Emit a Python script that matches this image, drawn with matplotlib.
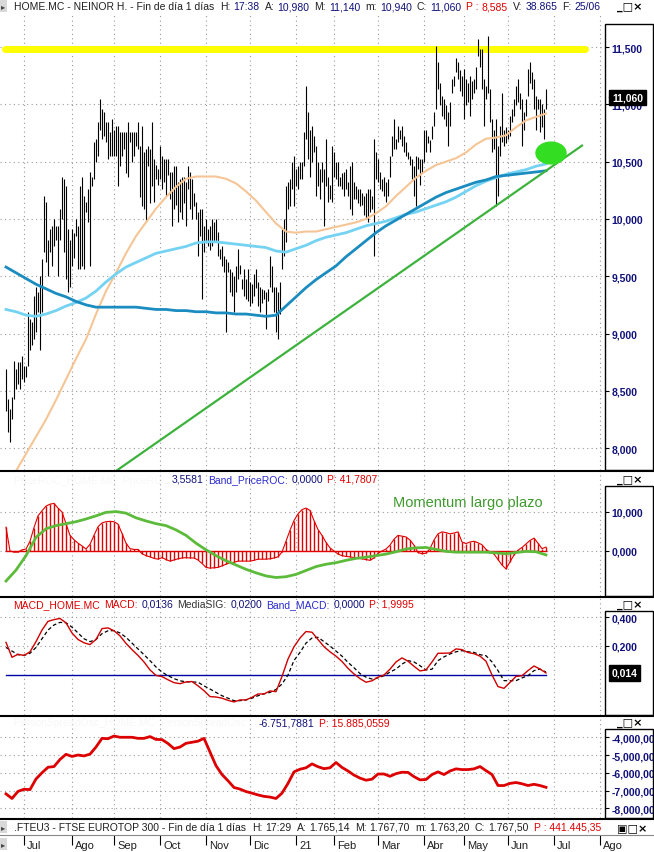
import matplotlib
matplotlib.use("Agg")
import matplotlib.pyplot as plt
from matplotlib.patches import Ellipse, Rectangle
from matplotlib.lines import Line2D
from matplotlib.transforms import blended_transform_factory
import numpy as np

# ---- data -----------------------------------------------------------------
# daily bars HOME.MC (high / low), one per session
price_high = [
    8.69, 8.43, 8.34, 8.45, 8.76, 8.69, 8.75, 8.75, 8.80, 8.72, 8.72, 9.19, 9.13, 9.10, 9.33, 9.41,
    9.36, 9.50, 9.65, 10.20, 10.15, 9.82, 9.91, 9.94, 10.00, 9.94, 9.94, 10.09, 10.37, 10.35, 10.29,
    9.91, 9.82, 9.91, 9.88, 10.00, 9.94, 10.29, 10.37, 10.20, 10.15, 10.26, 10.41, 10.37, 10.67, 10.70,
    10.85, 11.05, 10.96, 10.93, 10.85, 10.85, 10.76, 10.87, 10.78, 10.81, 10.81, 10.76, 10.76, 10.76,
    10.76, 10.85, 10.76, 10.76, 10.76, 10.76, 10.85, 10.64, 10.81, 10.58, 10.61, 10.64, 10.61, 10.85,
    10.52, 10.47, 10.44,
    10.64, 10.55, 10.52, 10.52, 10.52, 10.41, 10.41, 10.46, 10.46, 10.32, 10.35, 10.37, 10.37, 10.32,
    10.46, 10.41, 10.35, 10.23, 10.15, 10.06, 10.09, 10.09, 9.94, 10.00, 9.91, 9.94, 10.00, 9.97,
    10.00, 9.89, 9.74, 9.76, 9.68, 9.65, 9.62, 9.56, 9.54, 9.50, 9.59, 9.74, 9.60, 9.48, 9.56, 9.48,
    9.56, 9.45, 9.43, 9.52, 9.56, 9.45, 9.41, 9.39, 9.38, 9.36, 9.39, 9.68, 9.59, 9.41, 9.41, 9.36,
    9.45, 9.91, 10.00, 10.29, 10.32, 10.35, 10.50, 10.55, 10.44, 10.46, 10.50, 10.50, 10.76, 11.16,
    10.93,
    10.78, 10.81, 10.72, 10.64, 10.50, 10.44, 10.50, 10.44, 10.70, 10.37, 10.30, 10.64, 10.58, 10.50,
    10.50, 10.37, 10.40, 10.41, 10.44, 10.32, 10.46, 10.50, 10.32, 10.29, 10.26, 10.26, 10.23, 10.20,
    10.23, 10.26, 10.26, 10.20, 10.70, 10.58, 10.52, 10.41, 10.35, 10.37, 10.32, 10.35, 10.55, 10.72,
    10.87, 10.70, 10.81, 10.78, 10.81, 10.72, 10.67, 10.58, 10.55, 10.52, 10.46, 10.55, 10.54, 10.52,
    10.52, 10.78, 10.78, 10.72, 10.69, 10.81, 10.93, 11.51, 11.37, 11.19, 11.07, 11.05, 10.99, 10.93,
    11.02, 11.22, 11.25, 11.40, 11.37,
    11.30, 11.25, 11.31, 11.22, 11.19, 11.25, 11.20, 11.22, 11.33, 11.57, 11.48, 11.48, 11.22, 11.16,
    11.60, 11.13, 10.87, 10.78, 10.87, 10.64, 10.81, 11.10, 10.78, 10.80, 10.78, 10.90, 10.96, 11.05,
    11.16, 11.22, 11.10, 11.05, 10.93, 11.05, 11.31, 11.37, 11.28, 11.22, 11.07, 11.05, 11.05, 11.00,
    10.96, 11.13,
]
price_low = [
    8.32, 8.14, 8.05, 8.25, 8.43, 8.52, 8.56, 8.52, 8.60, 8.58, 8.62, 8.72, 8.86, 8.90, 8.95, 9.01,
    9.19, 8.86, 9.19, 9.71, 9.62, 9.50, 9.71, 9.59, 9.76, 9.82, 9.50, 9.82, 10.00, 9.71, 9.48,
    9.36, 9.41, 9.59, 9.66, 9.85, 9.56, 9.56, 9.59, 9.56, 10.06, 9.97, 9.59, 10.29, 10.35, 10.50,
    10.55, 10.78, 10.70, 10.72, 10.67, 10.52, 10.55, 10.55, 10.55, 10.55, 10.29, 10.46, 10.55, 10.61,
    10.40, 10.37, 10.67, 10.50, 10.55, 10.64, 10.61, 10.19, 10.11, 10.09, 9.97, 10.46, 10.14, 10.29,
    10.15, 10.35, 10.30,
    10.35, 10.26, 10.32, 10.20, 10.38, 10.17, 9.94, 10.09, 10.12, 9.97, 10.06, 10.00, 10.14, 9.94,
    10.26, 10.09, 10.00, 10.11, 10.00, 9.68, 9.85, 9.30, 9.71, 9.80, 9.76, 9.73, 9.76, 9.80,
    9.80, 9.68, 9.65, 9.59, 9.54, 9.01, 9.54, 9.36, 9.33, 9.19, 9.36, 9.48, 9.52, 9.39, 9.33, 9.30,
    9.28, 9.24, 9.27, 9.33, 9.40, 9.24, 9.19, 9.27, 9.30, 9.04, 9.28, 9.41, 9.36, 9.19, 9.01, 8.95,
    9.17, 9.56, 9.68, 9.80, 10.09, 10.11, 10.26, 10.11, 10.29, 10.26, 10.35, 10.35, 10.46, 10.70,
    10.52,
    10.37, 10.50, 10.58, 10.20, 10.29, 10.17, 10.32, 9.94, 10.29, 10.15, 10.17, 10.15, 10.37, 10.35,
    10.29, 10.29, 10.26, 10.20, 10.26, 10.20, 10.09, 10.03, 10.17, 10.17, 10.14, 10.11, 10.12, 10.03,
    10.00, 9.97, 10.06, 10.09, 9.68, 10.35, 10.32, 10.26, 10.24, 10.20, 10.15, 10.20, 10.37, 10.55,
    10.61, 10.61, 10.67, 10.70, 10.64, 10.58, 10.55, 10.52, 10.47, 10.35, 10.20, 10.11, 10.44, 10.30,
    10.40, 10.50, 10.58, 10.66, 10.58, 10.70, 10.81, 10.96, 11.13, 10.99, 10.90, 10.87, 10.81, 10.64,
    10.81, 11.10, 11.16, 11.28, 11.22,
    11.12, 11.07, 10.87, 10.99, 11.02, 10.90, 11.05, 11.10, 11.13, 11.42, 11.33, 11.13, 10.81, 11.05,
    11.10, 10.85, 10.58, 10.61, 10.11, 10.20, 10.55, 10.67, 10.64, 10.66, 10.70, 10.72, 10.85, 10.90,
    10.99, 11.02, 10.96, 10.64, 10.78, 10.90, 11.07, 11.19, 11.13, 10.96, 10.78, 10.96, 10.76, 10.80,
    10.70, 10.96,
]

# moving averages, one value every 5 sessions
ma_short = [7.65, 7.80, 7.95, 8.10, 8.25, 8.42, 8.60, 8.78, 8.95, 9.17, 9.37, 9.53, 9.70, 9.85,
            9.97, 10.09, 10.19, 10.28, 10.35, 10.37, 10.37, 10.37, 10.35, 10.31, 10.24, 10.16,
            10.06, 9.96, 9.89, 9.88, 9.89, 9.89, 9.91, 9.93, 9.95, 9.97, 10.00, 10.05, 10.11,
            10.20, 10.28, 10.36, 10.42, 10.47, 10.50, 10.53, 10.58, 10.65, 10.70, 10.71, 10.73,
            10.80, 10.86, 10.89, 10.92]
ma_mid = [9.21, 9.19, 9.16, 9.15, 9.17, 9.20, 9.24, 9.27, 9.31, 9.37, 9.45, 9.52, 9.58, 9.62,
          9.66, 9.70, 9.72, 9.74, 9.76, 9.79, 9.80, 9.80, 9.79, 9.78, 9.77, 9.76, 9.75, 9.72,
          9.71, 9.74, 9.77, 9.81, 9.84, 9.86, 9.88, 9.91, 9.94, 9.96, 9.98, 10.01, 10.04, 10.06,
          10.09, 10.12, 10.15, 10.19, 10.24, 10.29, 10.33, 10.36, 10.39, 10.41, 10.43, 10.46, 10.48]
ma_long = [9.58, 9.53, 9.48, 9.43, 9.39, 9.35, 9.32, 9.28, 9.25, 9.23, 9.23, 9.23, 9.23, 9.23,
           9.22, 9.21, 9.21, 9.20, 9.20, 9.19, 9.19, 9.18, 9.18, 9.17, 9.17, 9.16, 9.15, 9.16,
           9.24, 9.32, 9.40, 9.47, 9.53, 9.59, 9.67, 9.74, 9.81, 9.88, 9.94, 9.99, 10.04, 10.09,
           10.14, 10.19, 10.23, 10.26, 10.29, 10.32, 10.34, 10.37, 10.38, 10.39, 10.40, 10.41, 10.42]

resistance = 11.48
trend_start, trend_end = (55, 7.80), (288, 10.64)   # (session, price)
last_close = 11.06

# PriceROC histogram (every 2 sessions) and long-term momentum (every 5)
roc_hist = [6.1, 0.0, -0.3, -0.3, 0.3, 0.5, 2.5, 6.0, 9.0, 10.3, 11.5, 12.0, 12.2, 11.0, 10.0,
            7.0, 4.0, 2.9, 2.0, 1.3, 0.5, 1.7, 4.0, 6.2, 7.2, 7.5, 7.6, 7.5, 6.9, 4.5, 2.0, 0.6,
            0.4, 0.4, -0.7, -1.2, -1.5, -1.9, -2.1, -1.7, -2.2, -2.6, -2.3, -2.0, -1.8, -1.7,
            -1.8, -1.8, -2.3, -3.2, -4.2, -4.4, -4.3, -4.2, -3.8, -3.4, -3.0, -2.9, -2.6, -2.6,
            -2.6, -2.6, -2.4, -2.1, -2.1, -2.1, -2.0, -1.8, -1.5, -0.3, 2.5, 5.3, 7.8, 9.5, 10.6,
            11.0, 10.4, 7.8, 5.5, 4.0, 2.2, 0.8, 0.0, -0.8, -1.2, -1.4, -1.5, -1.7, -1.9, -2.0,
            -2.2, -2.4, -1.8, -0.6, 0.0, 0.5, 1.5, 3.0, 4.0, 3.8, 3.6, 2.8, 1.5, -0.4, -0.7,
            -0.6, 0.6, 2.8, 4.4, 4.9, 4.7, 4.4, 4.6, 4.9, 2.3, 1.9, 2.3, 2.5, 2.1, 1.6, 0.4,
            -0.3, -0.8, -2.2, -3.6, -4.6, -2.8, -1.0, 0.2, 0.9, 1.8, 2.7, 3.3, 2.0, 0.6, 1.0]
momentum = [-7.7, -4.9, -1.2, 3.5, 5.7, 6.5, 7.0, 7.5, 8.2, 9.0, 9.9, 10.1, 9.7, 8.5, 7.7, 7.0,
            6.5, 5.4, 4.0, 2.0, 0.3, -1.2, -2.5, -3.6, -4.7, -5.6, -6.4, -6.8, -6.6, -6.0, -5.0,
            -4.0, -3.4, -3.0, -2.4, -1.9, -1.6, -1.2, -0.8, -0.2, 0.5, 0.8, 0.9, 0.4, -0.1, -0.3,
            -0.3, -0.3, -0.3, -0.5, -0.7, -0.4, -0.1, -0.2, -1.0]

# MACD and signal, one value every 3 sessions
macd = [0.225, 0.122, 0.143, 0.135, 0.16, 0.23, 0.31, 0.37, 0.382, 0.39, 0.36, 0.29, 0.245,
        0.222, 0.21, 0.245, 0.32, 0.325, 0.305, 0.27, 0.218, 0.175, 0.135, 0.09, 0.035, -0.003,
        -0.011, -0.033, -0.053, -0.06, -0.048, -0.045, -0.075, -0.108, -0.149, -0.152, -0.16,
        -0.175, -0.186, -0.172, -0.172, -0.154, -0.131, -0.131, -0.11, -0.115, -0.01, 0.11,
        0.195, 0.255, 0.30, 0.295, 0.245, 0.195, 0.16, 0.13, 0.093, 0.046, 0.007, -0.025,
        -0.05, -0.04, -0.015, 0.0, 0.04, 0.09, 0.118, 0.095, 0.06, 0.028, 0.035, 0.09, 0.15,
        0.15, 0.152, 0.18, 0.175, 0.155, 0.147, 0.13, 0.095, 0.0, -0.08, -0.092, -0.051,
        -0.01, -0.005, 0.03, 0.062, 0.041, 0.014]
signal = [0.19, 0.165, 0.14, 0.135, 0.15, 0.19, 0.25, 0.31, 0.345, 0.363, 0.36, 0.33, 0.29,
          0.25, 0.23, 0.245, 0.285, 0.305, 0.306, 0.29, 0.26, 0.22, 0.18, 0.14, 0.099, 0.055,
          0.02, -0.005, -0.025, -0.04, -0.047, -0.048, -0.05, -0.075, -0.097, -0.12, -0.143,
          -0.16, -0.177, -0.177, -0.172, -0.16, -0.143, -0.13, -0.12, -0.10, -0.062, 0.0, 0.10,
          0.156, 0.22, 0.255, 0.26, 0.23, 0.20, 0.165, 0.13, 0.087, 0.05, 0.01, -0.015, -0.028,
          -0.02, -0.005, 0.02, 0.041, 0.075, 0.099, 0.09, 0.064, 0.035, 0.04, 0.099, 0.125,
          0.145, 0.16, 0.168, 0.16, 0.156, 0.14, 0.133, 0.09, 0.03, -0.039, -0.04, -0.039,
          -0.02, -0.005, 0.03, 0.041, 0.02]
band_macd = 0.0

# spread oscillator (millions), one value every 3 sessions
spread = [-7.19, -7.45, -7.05, -6.93, -6.95, -6.35, -6.00, -5.69, -5.65, -5.25, -4.96, -5.08,
          -5.00, -5.05, -4.95, -4.55, -4.06, -4.08, -3.93, -4.00, -4.00, -4.00, -4.06, -4.06,
          -3.96, -4.12, -4.13, -4.35, -4.64, -4.55, -4.34, -4.28, -4.22, -4.06, -4.83, -5.60,
          -6.10, -6.45, -6.83, -6.92, -7.06, -7.15, -7.25, -7.33, -7.37, -7.45, -7.15, -6.60,
          -5.95, -5.80, -5.72, -5.50, -5.66, -5.77, -5.72, -5.42, -5.70, -5.90, -6.13, -6.30,
          -6.42, -6.36, -6.07, -6.07, -6.20, -6.05, -5.97, -5.98, -6.22, -6.40, -6.38, -6.10,
          -5.95, -6.10, -5.90, -5.78, -5.82, -5.82, -5.78, -5.65, -5.88, -6.10, -6.72, -6.72,
          -6.60, -6.55, -6.62, -6.72, -6.65, -6.72, -6.82]

month_pos = [9, 33, 54, 77, 100, 122, 145, 164, 186, 209, 229, 251, 274, 297]
month_labels = ["Jul", "Ago", "Sep", "Oct", "Nov", "Dic", "21", "Feb", "Mar", "Abr",
                "May", "Jun", "Jul", "Ago"]

price_ticks = [8.0, 8.5, 9.0, 9.5, 10.0, 10.5, 11.0, 11.5]
roc_ticks = [0.0, 10.0]
macd_ticks = [0.2, 0.4]
spread_ticks = [-8, -7, -6, -5, -4]

# ---- layout (pixel helpers) -----------------------------------------------
W, H = 654, 853
fig = plt.figure(figsize=(W / 100, H / 100), dpi=100)
fig.patch.set_facecolor('white')
renderer = fig.canvas.get_renderer()

NAVY = '#10107a'
DARK = '#202020'
RED = '#e00000'
FAINT = '#f7f7f7'
FONT = 'Liberation Sans'


def rect(x0, y0, x1, y1):
    return [x0 / W, 1 - y1 / H, (x1 - x0) / W, (y1 - y0) / H]


def fy(y):
    return 1 - y / H


def hline(y, x0=0, x1=W, lw=1.5, color='black'):
    fig.add_artist(Line2D([x0 / W, x1 / W], [fy(y), fy(y)], color=color, lw=lw,
                          zorder=20))


def write_row(x, y, parts, size=7.5, gap=4):
    for txt, col in parts:
        t = fig.text(x / W, fy(y), txt, color=col, fontsize=size, family=FONT,
                     va='center', ha='left')
        x += t.get_window_extent(renderer).width + gap
    return x


def buttons(y, glyphs="_□×"):
    fig.text(617 / W, fy(y), glyphs, fontsize=8, family='DejaVu Sans',
             weight='bold', va='center', ha='left', color='black', zorder=6)


def arrow_icon(y):
    fig.text(1 / W, fy(y), "▸", fontsize=6, family='DejaVu Sans', va='center',
             ha='left', color='#444444',
             bbox=dict(boxstyle='square,pad=0.15', fc='#d8d8d8', ec='none'))


def panel(top, bottom, ylim, ticks, fmt):
    ax = fig.add_axes(rect(0, top, 605, bottom))
    ax.set_xlim(-3, 299.5)
    ax.set_ylim(*ylim)
    for s in ax.spines.values():
        s.set_visible(False)
    ax.set_xticks(month_pos)
    ax.tick_params(axis='x', length=0, labelbottom=False)
    ax.yaxis.tick_right()
    ax.set_yticks(ticks)
    ax.set_yticklabels([fmt(v) for v in ticks])
    ax.tick_params(axis='y', direction='out', length=3, width=0.8, pad=1.5,
                   labelsize=7.5, labelcolor=NAVY, colors='black')
    for lab in ax.get_yticklabels():
        lab.set_fontweight('bold')
        lab.set_family(FONT)
        lab.set_color(NAVY)
    ax.grid(True, color='#9a9a9a', linestyle=(0, (1, 3)), linewidth=0.8)
    ax.set_axisbelow(True)
    return ax


def axis_box(top, bottom):
    fig.add_artist(Rectangle((605 / W, fy(bottom)), 48 / W, (bottom - top) / H,
                             transform=fig.transFigure, fill=False,
                             ec='black', lw=1.0))


def dec3(v):
    return f"{v:.3f}".replace('.', ',')


# ---- price panel -------------------------------------------------------------
idx = np.arange(len(price_high))
ax_p = panel(14, 471, (7.809, 11.797), price_ticks, dec3)
axis_box(25, 471)
ax_p.vlines(idx, price_low, price_high, color='black', lw=0.8, zorder=3)
ma_idx = np.arange(len(ma_short)) * 5
ax_p.plot(ma_idx, ma_short, color='#f5c596', lw=1.5, zorder=4)
ax_p.plot(ma_idx, ma_mid, color='#74d2f2', lw=2.0, zorder=4)
ax_p.plot(ma_idx, ma_long, color='#1b8cc0', lw=2.0, zorder=4)
ax_p.plot([trend_start[0], trend_end[0]], [trend_start[1], trend_end[1]],
          color='#3db23d', lw=1.6, zorder=5)
ax_p.plot([-0.5, 289.5], [resistance, resistance], color='#ffff00', lw=5,
          solid_capstyle='round', zorder=2)
ax_p.add_patch(Ellipse((272.5, 10.575), 15, 0.19, color='#33dd22', zorder=6))
tr = blended_transform_factory(ax_p.transAxes, ax_p.transData)
ax_p.text(612 / 605, last_close, dec3(last_close), transform=tr, color='white',
          fontsize=7.5, weight='bold', family=FONT, va='center', ha='left', zorder=10,
          bbox=dict(boxstyle='square,pad=0.25', fc='black', ec='black'))
ax_p.text(607 / 605, last_close, "‹", transform=tr, color='black', fontsize=6,
          va='center', ha='left')

# header row
arrow_icon(7)
x = write_row(14, 7, [("HOME.MC - NEINOR H. - Fin de día 1 días", DARK)])
for lab, val, col in [("H:", "17:38", NAVY), ("A:", "10,980", NAVY),
                      ("M:", "11,140", NAVY), ("m:", "10,940", NAVY),
                      ("C:", "11,060", NAVY), ("P :", "8,585", RED),
                      ("V:", "38.865", NAVY), ("F:", "25/06", NAVY)]:
    x = write_row(x + 2, 7, [(lab, RED if col == RED else DARK), (val, col)], gap=3)
buttons(7)

# ---- momentum panel ---------------------------------------------------------
ax_m = panel(472, 597, (-11.54, 20.5), roc_ticks, dec3)
axis_box(487, 597)
h_idx = np.arange(len(roc_hist)) * 2
ax_m.vlines(h_idx, 0, roc_hist, color=RED, lw=1.0, zorder=3)
ax_m.plot(h_idx, roc_hist, color=RED, lw=0.8, zorder=3)
ax_m.plot([h_idx[0], h_idx[-1]], [0, 0], color=RED, lw=1.0, zorder=3)
ax_m.plot(np.arange(len(momentum)) * 5, momentum, color='#5cbb3a', lw=2.0, zorder=4)
fig.text(393 / W, fy(503), "Momentum largo plazo", color='#3f9a2e', fontsize=10.5,
         family=FONT, va='center', ha='left')
write_row(14, 480, [("PriceROC_HOME.MC  PriceROC:", FAINT)])
write_row(172, 480, [("3,5581", NAVY), ("Band_PriceROC:", '#2a2ad0'), ("0,0000", NAVY),
                     ("P: 41,7807", RED)])
buttons(480)

# ---- MACD panel ----------------------------------------------------------------
ax_c = panel(598, 716, (-0.276, 0.538), macd_ticks, dec3)
axis_box(612, 716)
c_idx = np.arange(len(macd)) * 3
ax_c.plot([c_idx[0], c_idx[-1]], [band_macd, band_macd], color='#0000a0', lw=1.0, zorder=3)
ax_c.plot(c_idx, signal, color='black', lw=0.9, ls=(0, (3, 2)), zorder=4)
ax_c.plot(c_idx, macd, color='#d00000', lw=1.0, zorder=5)
trc = blended_transform_factory(ax_c.transAxes, ax_c.transData)
ax_c.text(612 / 605, macd[-1], dec3(macd[-1]), transform=trc, color='white',
          fontsize=7.5, weight='bold', family=FONT, va='center', ha='left', zorder=10,
          bbox=dict(boxstyle='square,pad=0.25', fc='black', ec='black'))
write_row(13, 605, [("MACD_HOME.MC", RED), ("MACD:", RED), ("0,0136", NAVY),
                    ("MediaSIG:", '#333333'), ("0,0200", NAVY), ("Band_MACD:", '#2a2ad0'),
                    ("0,0000", NAVY), ("P: 1,9995", RED)])
buttons(605)

# ---- spread panel ---------------------------------------------------------------
ax_s = panel(717, 819, (-8.55, -2.80), spread_ticks,
             lambda v: f"{v * 1e6:,.0f}")
axis_box(730, 819)
ax_s.plot(np.arange(len(spread)) * 3, spread, color='#dd0000', lw=2.0, zorder=4)
write_row(14, 723, [("PersonSpreadOsc_HOME.MC  PersonSpreadOsc:", FAINT)])
write_row(259, 723, [("-6.751,7881", NAVY), ("P: 15.885,0559", RED)])
buttons(723)

# ---- bottom strip and month axis ----------------------------------------------
arrow_icon(828)
x = write_row(14, 828, [(".FTEU3 - FTSE EUROTOP 300 - Fin de día 1 días", DARK)])
for lab, val in [("H:", "17:29"), ("A:", "1.765,14"), ("M:", "1.767,70"),
                 ("m:", "1.763,20"), ("C:", "1.767,50")]:
    x = write_row(x + 2, 828, [(lab, DARK), (val, DARK)], gap=3)
write_row(x + 2, 828, [("P : 441.445,35", RED)])
fig.add_artist(Rectangle((604 / W, fy(836)), 50 / W, 15 / H, transform=fig.transFigure,
                         fc='white', ec='none', zorder=5))
buttons(828, "▣□×")

ax_x = fig.add_axes(rect(0, 836, W, 853))
ax_x.set_xlim(-3, -3 + W / 2)
ax_x.set_ylim(0, 1)
ax_x.axis('off')
ax_x.vlines(month_pos, 0.4, 1.0, color='black', lw=0.8)
for p, lab in zip(month_pos, month_labels):
    ax_x.text(p + 1.5, 0.4, lab, fontsize=8, family=FONT, color=DARK,
              va='center', ha='left')
arrow_icon(845)

for y in (471.5, 597.5, 716.5, 819.5):
    hline(y)
hline(835.5, lw=0.8, color='#888888')

fig.savefig("out.png", dpi=100, facecolor='white')
